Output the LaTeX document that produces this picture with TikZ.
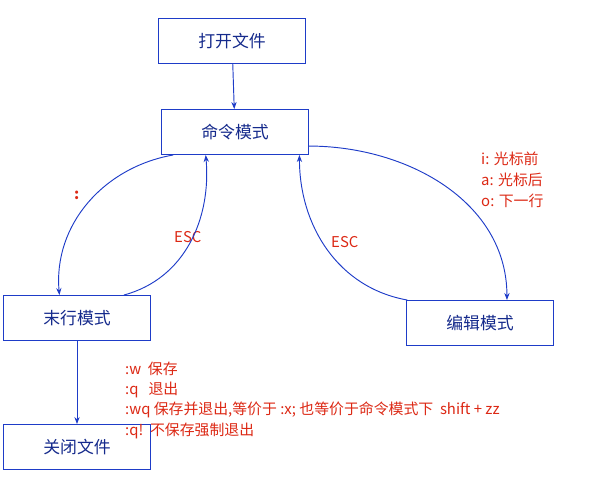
\documentclass[tikz,border=0pt]{standalone}
\usepackage{fontspec}
\setmainfont{Noto Sans CJK SC}
\usetikzlibrary{arrows.meta}
\definecolor{boxblue}{RGB}{30, 60, 200}
\definecolor{lblred}{RGB}{220, 40, 20}
\tikzstyle{box}=[rectangle,draw=boxblue,line width=0.8pt,fill=white,
  minimum width=4.4cm,minimum height=1.35cm,font=\Large,text=boxblue!70!black]
\tikzstyle{lbl}=[text=lblred,font=\fontsize{12.7}{14}\selectfont,anchor=west,inner sep=0pt]
\tikzstyle{con}=[draw=boxblue,line width=0.8pt,-{Stealth[length=6pt]}]
\begin{document}
\begin{tikzpicture}[x=0.03cm,y=-0.03cm]
            \useasboundingbox (0,0) rectangle (601,500);
            \node [style=box] (open) at (232, 41) {打开文件};
            \node [style=box] (cmd) at (235, 132) {命令模式};
            \node [style=box] (last) at (77, 318) {末行模式};
            \node [style=box] (edit) at (480, 323) {编辑模式};
            \node [style=box] (close) at (77, 447) {关闭文件};
            \node [style=lbl] (colon) at (74, 195) {\textbf{:}};
            \node [style=lbl] (esc1) at (174, 237) {ESC};
            \node [style=lbl] (esc2) at (331, 242) {ESC};
            \node [style=lbl] (ins1) at (481, 159) {i: 光标前};
            \node [style=lbl] (ins2) at (481, 180) {a: 光标后};
            \node [style=lbl] (ins3) at (481, 201) {o: 下一行};
            \node [style=lbl] (cmd1) at (125, 369) {:w\ \ 保存};
            \node [style=lbl] (cmd2) at (125, 390) {:q\ \ \ 退出};
            \node [style=lbl] (cmd3) at (125, 410) {:wq 保存并退出,等价于 :x; 也等价于命令模式下\ \ shift + zz};
            \node [style=lbl] (cmd4) at (125, 431) {:q!\ \ 不保存强制退出};
            \draw [style=con] (open) to (cmd);
            \draw [style=con] (last) to (close);
            \draw [style=con] (cmd.south west) ++(12,0) coordinate (c1)
                  (c1) to [out=190, in=95] ([xshift=-15]last.north);
            \draw [style=con] ([xshift=40]last.north) to [out=15, in=-85] ([xshift=-25]cmd.south);
            \draw [style=con] ([xshift=-62]edit.north) to [out=170, in=-90] ([xshift=55]cmd.south);
            \draw [style=con] ([yshift=-12]cmd.east) to [out=0, in=90] ([xshift=23]edit.north);
    \end{tikzpicture}
\end{document}
